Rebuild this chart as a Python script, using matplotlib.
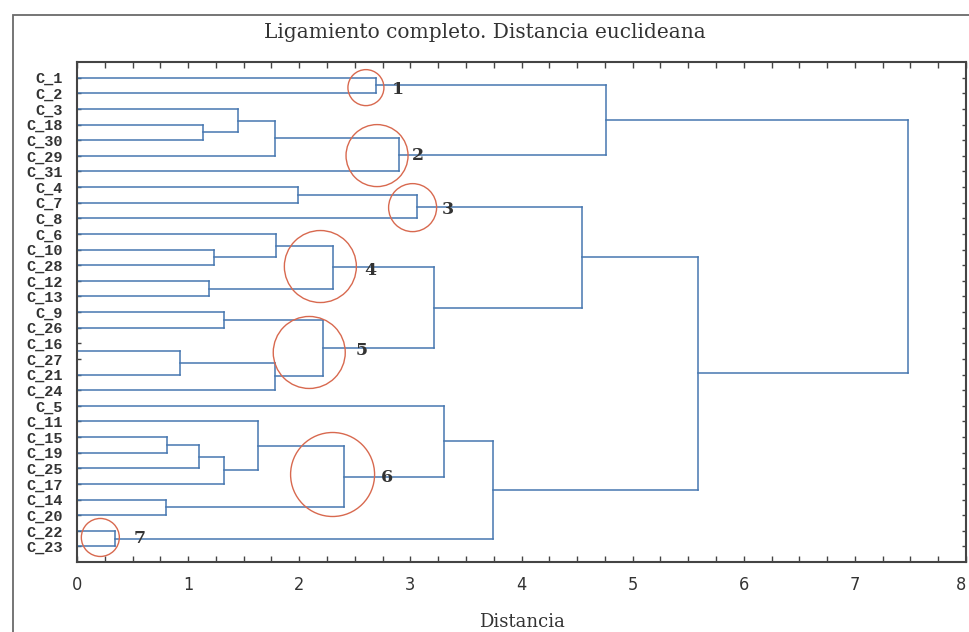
import matplotlib.pyplot as plt
from matplotlib.patches import Ellipse, Rectangle
import numpy as np

# leaf order as drawn, top to bottom
leaves = ['C_1', 'C_2', 'C_3', 'C_18', 'C_30', 'C_29', 'C_31', 'C_4', 'C_7', 'C_8',
          'C_6', 'C_10', 'C_28', 'C_12', 'C_13', 'C_9', 'C_26', 'C_16', 'C_27', 'C_21',
          'C_24', 'C_5', 'C_11', 'C_15', 'C_19', 'C_25', 'C_17', 'C_14', 'C_20', 'C_22',
          'C_23']

# merges: node n<i> joins merge_a[i] and merge_b[i] at merge_h[i]
merge_a = ['C_16', 'C_18', 'C_3', 'n2', 'n3', 'C_1', 'n5', 'C_4', 'n7', 'C_10',
           'C_6', 'C_12', 'n10', 'C_9', 'n0', 'n14', 'n13', 'n12', 'n8', 'C_15',
           'n19', 'n20', 'C_11', 'C_14', 'n22', 'C_5', 'C_22', 'n25', 'n18', 'n6']
merge_b = ['C_27', 'C_30', 'n1', 'C_29', 'C_31', 'C_2', 'n4', 'C_7', 'C_8', 'C_28',
           'n9', 'C_13', 'n11', 'C_26', 'C_21', 'C_24', 'n15', 'n16', 'n17', 'C_19',
           'C_25', 'C_17', 'n21', 'C_20', 'n23', 'n24', 'C_23', 'n26', 'n27', 'n28']
merge_h = [0.00, 1.13, 1.45, 1.78, 2.90, 2.69, 4.76, 1.99, 3.06, 1.23,
           1.79, 1.19, 2.30, 1.32, 0.93, 1.78, 2.21, 3.21, 4.54, 0.81,
           1.10, 1.32, 1.63, 0.80, 2.40, 3.30, 0.34, 3.74, 5.59, 7.48]

# circled groups: label, centre (distance, leaf row), radius in px
group_ids = ['1', '2', '3', '4', '5', '6', '7']
ring_x = [2.60, 2.70, 3.02, 2.19, 2.09, 2.30, 0.21]
ring_y = [0.64, 4.99, 8.32, 12.09, 17.59, 25.40, 29.43]
ring_r = [18, 31, 24, 36, 36, 42, 19]
tag_x = [2.89, 3.07, 3.34, 2.64, 2.56, 2.79, 0.56]
tag_y = [0.77, 4.99, 8.45, 12.35, 17.47, 25.6, 29.5]

line_col = '#4677b0'
ring_col = '#d8694f'
text_col = '#333333'

fig = plt.figure(figsize=(9.69, 6.32), dpi=100)
ax = fig.add_axes([77 / 969, 70 / 632, 889 / 969, 500 / 632])

# window frame (runs off the right and bottom edges)
fig.add_artist(Rectangle((13 / 969, -0.05), 1.2, (632 - 15) / 632 + 0.05,
                         transform=fig.transFigure, fill=False,
                         edgecolor='#6a6a6a', lw=1.3))

pos = {name: (float(i), 0.0) for i, name in enumerate(leaves)}
for i, (a, b, h) in enumerate(zip(merge_a, merge_b, merge_h)):
    ya, ha = pos[a]
    yb, hb = pos[b]
    ax.plot([ha, h], [ya, ya], color=line_col, lw=1.1)
    ax.plot([hb, h], [yb, yb], color=line_col, lw=1.1)
    ax.plot([h, h], [ya, yb], color=line_col, lw=1.1)
    pos['n%d' % i] = ((ya + yb) / 2, h)

ax.set_xlim(0, 8)
ax.set_ylim(len(leaves), -1)

px_x = 889 / 8.0
px_y = 500 / (len(leaves) + 1)
for g, cx, cy, r, tx, ty in zip(group_ids, ring_x, ring_y, ring_r, tag_x, tag_y):
    ax.add_patch(Ellipse((cx, cy), 2 * r / px_x, 2 * r / px_y, fill=False,
                         edgecolor=ring_col, lw=1.0, zorder=3))
    ax.text(tx, ty, g, ha='center', va='center', fontsize=12.5, fontweight='bold',
            family='DejaVu Serif', color=text_col, zorder=4)

ax.set_yticks(range(len(leaves)))
ax.set_yticklabels(leaves, family='Liberation Mono', fontweight='bold',
                   fontsize=11, color=text_col)
ax.set_xticks(range(9))
ax.set_xticklabels([str(v) for v in range(9)], family='DejaVu Sans',
                   stretch='condensed', fontsize=13, color=text_col)
ax.get_xticklabels()[-1].set_ha('right')
ax.set_xticks(np.arange(0, 8.01, 0.25), minor=True)
ax.tick_params(axis='x', which='both', direction='in', top=True, bottom=True,
               length=4, width=1, color='#444444', pad=10)
ax.tick_params(axis='y', direction='in', left=True, right=True, length=3,
               width=1, color='#444444', pad=10)
for s in ax.spines.values():
    s.set_color('#444444')
    s.set_linewidth(1.5)

fig.text(0.5, 1 - 33 / 632, 'Ligamiento completo. Distancia euclideana',
         ha='center', va='center', family='DejaVu Serif', fontsize=14.5,
         color=text_col)
ax.set_xlabel('Distancia', family='DejaVu Serif', fontsize=13,
              color=text_col, labelpad=14)

fig.savefig('out.png', dpi=100)
